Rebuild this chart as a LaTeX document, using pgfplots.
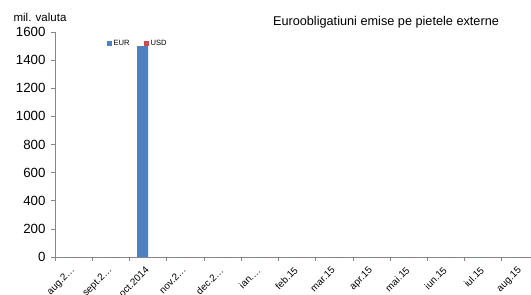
\documentclass[border=0pt]{standalone}
\usepackage{fontspec}
\setmainfont{Liberation Sans}
\usepackage{pgfplots}
\pgfplotsset{compat=1.18}
\definecolor{eurblue}{RGB}{79,129,189}
\definecolor{usdred}{RGB}{192,80,77}
\definecolor{axgray}{RGB}{134,134,134}
\begin{document}
\begin{tikzpicture}
\begin{axis}[
  scale only axis,
  width=484pt, height=225pt,
  xmin=-0.5, xmax=12.5,
  ymin=0, ymax=1600,
  ytick={0,200,...,1600},
  xtick={0,...,12},
  xticklabels={aug.2…,sept.2…,oct.2014,nov.2…,dec.2…,ian.…,feb.15,mar.15,apr.15,mai.15,iun.15,iul.15,aug.15},
  minor xtick={-0.5,0.5,...,12.5},
  major x tick style={draw=none},
  minor tick length=4pt,
  major tick length=4pt,
  tick align=outside,
  axis x line*=bottom, axis y line*=left,
  axis line style={axgray, line width=0.8pt},
  tick style={axgray, line width=0.6pt},
  every tick label/.append style={font=\fontsize{13.3}{14}\selectfont},
  y tick label style={xshift=-2pt},
  x tick label style={font=\fontsize{9.8}{11}\selectfont, xshift=-3.5pt, yshift=-3.5pt, rotate=45, anchor=north east, inner sep=1pt},
  /pgf/number format/assume math mode=true,
  /pgf/number format/1000 sep={},
  ybar=0pt, bar width=11pt,
  legend style={at={(0.106,0.975)}, anchor=north west, draw=none, fill=none,
    legend columns=2, font=\fontsize{7.6}{8}\selectfont,
    /tikz/every even column/.append style={column sep=12pt}, inner sep=0pt},
  legend image code/.code={\fill[#1] (0pt,-2.5pt) rectangle (5pt,2.5pt);},
  clip=false,
]
\addplot[fill=eurblue, draw=none] coordinates {(0,0) (1,0) (2,1500) (3,0) (4,0) (5,0) (6,0) (7,0) (8,0) (9,0) (10,0) (11,0) (12,0)};
\addlegendentry{EUR}
\addplot[fill=usdred, draw=none] coordinates {(0,0) (1,0) (2,0) (3,0) (4,0) (5,0) (6,0) (7,0) (8,0) (9,0) (10,0) (11,0) (12,0)};
\addlegendentry{USD}
\end{axis}
\node[font=\fontsize{12.7}{13}\selectfont] at (331pt,235pt) {Euroobligatiuni emise pe pietele externe};
\node[font=\fontsize{11.5}{12}\selectfont] at (-15pt,240pt) {mil. valuta};
\pgfresetboundingbox
\path[use as bounding box] (-55pt,-38pt) rectangle (476pt,257pt);
\end{tikzpicture}
\end{document}
